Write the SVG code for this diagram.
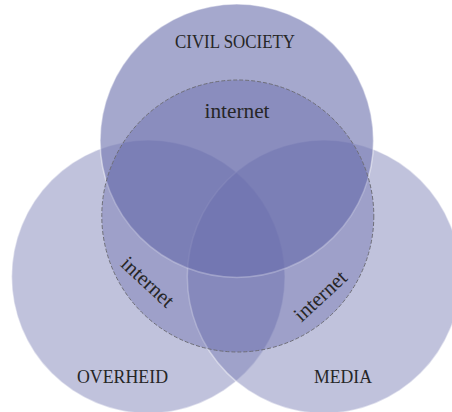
<svg xmlns="http://www.w3.org/2000/svg" width="452" height="412" viewBox="0 0 452 412">
<style>
.set { fill: #7b7fb5; stroke: #ffffff; stroke-opacity: 0.45; stroke-width: 1.5; }
.side { fill-opacity: 0.476; }
.top { fill-opacity: 0.68; }
.net { fill: #424797; fill-opacity: 0.27; stroke: #6e6e78; stroke-width: 1; stroke-dasharray: 4 2; }
.lbl { font-family: "Liberation Serif", "DejaVu Serif", serif; font-size: 19px; fill: #262626; text-anchor: middle; }
.it { font-family: "Liberation Serif", "DejaVu Serif", serif; font-size: 21px; fill: #262626; text-anchor: middle; }
</style>
<rect width="452" height="412" fill="#ffffff"/>
<g id="overheid">
  <circle class="set side" cx="148.3" cy="276.7" r="136.7"/>
</g>
<g id="media">
  <circle class="set side" cx="324" cy="276.7" r="136.7"/>
</g>
<g id="civil-society">
  <circle class="set top" cx="236.8" cy="140.7" r="136.7"/>
</g>
<g id="internet">
  <circle class="net" cx="237.8" cy="216" r="136"/>
</g>
<g id="labels">
  <text class="lbl" x="235" y="48" textLength="120" lengthAdjust="spacingAndGlyphs">CIVIL SOCIETY</text>
  <text class="lbl" x="122.5" y="383" textLength="91" lengthAdjust="spacingAndGlyphs">OVERHEID</text>
  <text class="lbl" x="343" y="383" textLength="58" lengthAdjust="spacingAndGlyphs">MEDIA</text>
  <text class="it" x="237" y="118" textLength="65" lengthAdjust="spacingAndGlyphs">internet</text>
  <text class="it" transform="translate(143,287) rotate(43)" textLength="64" lengthAdjust="spacingAndGlyphs">internet</text>
  <text class="it" transform="translate(325,301) rotate(-43)" textLength="64" lengthAdjust="spacingAndGlyphs">internet</text>
</g>
</svg>
